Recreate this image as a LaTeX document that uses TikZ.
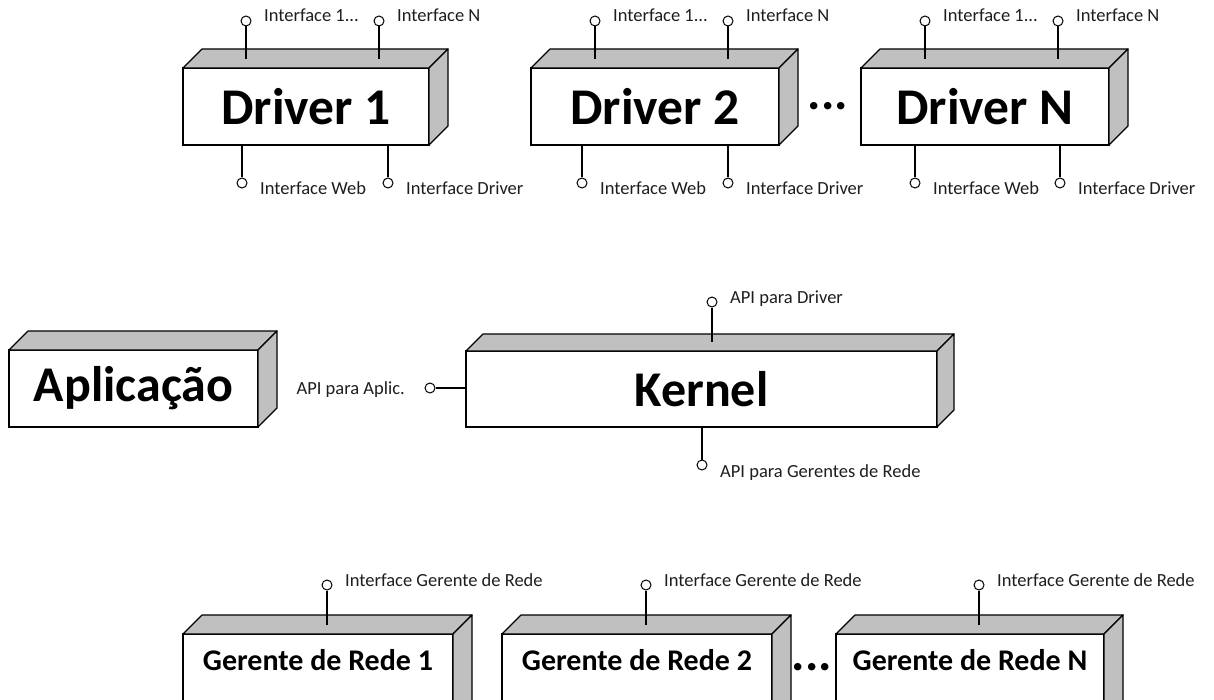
\documentclass[tikz,border=0pt]{standalone}
\usepackage{fontspec}
\setmainfont{Carlito}
\definecolor{facegray}{RGB}{192,192,192}
\definecolor{inkgray}{RGB}{30,30,30}

\tikzset{
  box/.style={draw, fill=white, line width=1.2pt, inner sep=0pt, outer sep=0pt,
    text=black, font=\bfseries\fontsize{50}{60}\selectfont},
  drvbox/.style={box, minimum height=77pt, font=\bfseries\fontsize{51.5}{60}\selectfont},
  smallbox/.style={box, font=\bfseries\fontsize{30}{36}\selectfont,
    anchor=north, text height=36pt, text depth=50pt},
  face/.style={draw, fill=facegray, line width=1.2pt, line join=round},
  port/.style={circle, draw, fill=white, line width=1pt, minimum size=10pt, inner sep=0pt},
  lead/.style={line width=1.2pt},
  tag/.style={font=\fontsize{18.5}{22}\selectfont, text=inkgray, inner sep=0pt, anchor=base west},
  gap/.style={font=\bfseries\fontsize{50}{60}\selectfont, inner sep=0pt, anchor=base}
}

% grey top and right faces of a block, built on the front node's corners
\newcommand\solidfaces[2][19]{%
  \path[face] (#2.north west) -- ++(#1,-#1) -- ([shift={(#1,-#1)}]#2.north east)
    -- (#2.north east) -- cycle;
  \path[face] (#2.north east) -- ++(#1,-#1) -- ([shift={(#1,-#1)}]#2.south east)
    -- (#2.south east) -- cycle;}

% interface on top of a block: name, block, x, y, label
\newcommand\toppin[5]{%
  \node[port] (#1) at (#3,#4) {};
  \draw[lead] (#1.south) -- ([yshift=9pt]#1 |- #2.north);
  \node[tag] (#1t) at ([shift={(18,1)}]#1.center) {#5};}

% interface below a block: name, block, x, y, label
\newcommand\botpin[5]{%
  \node[port] (#1) at (#3,#4) {};
  \draw[lead] (#1 |- #2.south) -- (#1.north);
  \node[tag] (#1t) at ([shift={(18,12)}]#1.center) {#5};}

\begin{document}
\begin{tikzpicture}[x=1pt, y=-1pt]
  \useasboundingbox (0,0) rectangle (1214,700);
  \fill[white] (0,0) rectangle (1214,700);
  \clip (0,0) rectangle (1214,700);

  % ---- drivers ----
  \node[drvbox, minimum width=246pt] (d1) at (306,106.5) {Driver 1};
  \node[drvbox, minimum width=248pt] (d2) at (655,106.5) {Driver 2};
  \node[drvbox, minimum width=248pt] (dN) at (985,106.5) {Driver N};
  \solidfaces{d1}
  \solidfaces{d2}
  \solidfaces{dN}
  \node[gap] (dgap) at (828,110) {...};

  \toppin{d1a}{d1}{246}{21}{Interface 1...}
  \toppin{d1b}{d1}{379}{21}{Interface N}
  \botpin{d1c}{d1}{242}{183}{Interface Web}
  \botpin{d1d}{d1}{388}{183}{Interface Driver}

  \toppin{d2a}{d2}{595}{21}{Interface 1...}
  \toppin{d2b}{d2}{728}{21}{Interface N}
  \botpin{d2c}{d2}{582}{183}{Interface Web}
  \botpin{d2d}{d2}{728}{183}{Interface Driver}

  \toppin{dNa}{dN}{925}{21}{Interface 1...}
  \toppin{dNb}{dN}{1058}{21}{Interface N}
  \botpin{dNc}{dN}{915}{183}{Interface Web}
  \botpin{dNd}{dN}{1060}{183}{Interface Driver}

  % ---- application and kernel ----
  \node[box, minimum width=249pt, minimum height=77pt] (app) at (133.5,388.5) {Aplicação};
  \node[box, minimum width=471pt, minimum height=76pt] (kernel) at (701.5,389) {Kernel};
  \solidfaces{app}
  \solidfaces[17]{kernel}

  \node[port] (pa) at (430,388) {};
  \draw[lead] (pa.east) -- (pa -| kernel.west);
  \node[tag, anchor=base east] (pat) at ([shift={(-25,6)}]pa.center) {API para Aplic.};

  \toppin{ka}{kernel}{712}{302}{API para Driver}
  \botpin{kb}{kernel}{702}{465}{API para Gerentes de Rede}

  % ---- network managers ----
  \node[smallbox, minimum width=270pt] (g1) at (318,634) {Gerente de Rede 1};
  \node[smallbox, minimum width=270pt] (g2) at (637,634) {Gerente de Rede 2};
  \node[smallbox, minimum width=268pt] (gN) at (970,634) {Gerente de Rede N};
  \solidfaces{g1}
  \solidfaces{g2}
  \solidfaces{gN}
  \node[gap] (ggap) at (812,670) {...};

  \toppin{g1a}{g1}{327}{585}{Interface Gerente de Rede}
  \toppin{g2a}{g2}{646}{585}{Interface Gerente de Rede}
  \toppin{gNa}{gN}{979}{585}{Interface Gerente de Rede}
\end{tikzpicture}
\end{document}
